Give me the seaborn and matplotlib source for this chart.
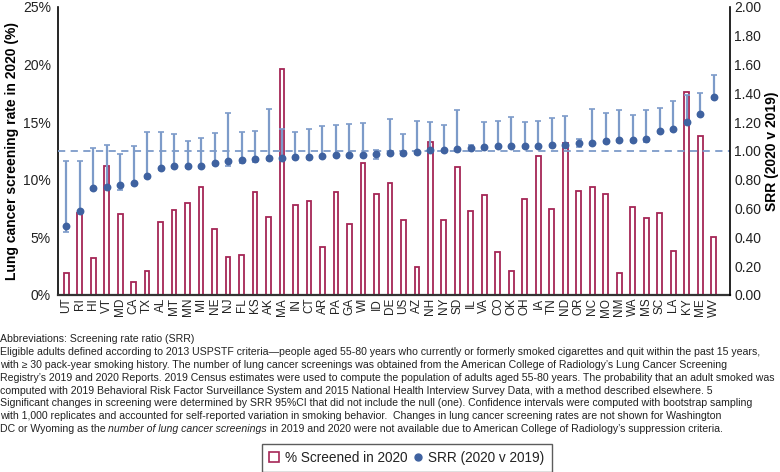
import numpy as np
import pandas as pd
import matplotlib
matplotlib.use("Agg")
import matplotlib.pyplot as plt
import seaborn as sns
from matplotlib.patches import Patch
from matplotlib.lines import Line2D
from matplotlib.ticker import FuncFormatter

states = ["UT","RI","HI","VT","MD","CA","TX","AL","MT","MN","MI","NE","NJ","FL","KS",
          "AK","MA","IN","CT","AR","PA","GA","WI","ID","DE","US","AZ","NH","NY","SD",
          "IL","VA","CO","OK","OH","IA","TN","ND","OR","NC","MO","NM","WA","MS","SC",
          "LA","KY","ME","WV"]

pct_screened = [1.9,7.1,3.2,11.2,7.0,1.1,2.1,6.3,7.35,7.95,9.35,5.7,3.3,3.45,8.95,
                6.75,19.6,7.85,8.2,4.15,8.9,6.2,11.5,8.75,9.75,6.5,2.45,13.3,6.55,11.15,
                7.25,8.7,3.7,2.05,8.3,12.1,7.45,13.2,9.0,9.4,8.75,1.9,7.65,6.65,7.15,
                3.8,17.6,13.8,5.0]

srr = [0.479,0.585,0.743,0.75,0.766,0.78,0.826,0.884,0.893,0.893,0.896,0.92,0.928,0.935,0.944,
       0.949,0.953,0.958,0.958,0.965,0.97,0.97,0.972,0.979,0.984,0.984,0.991,1.005,1.007,1.011,
       1.018,1.028,1.037,1.037,1.037,1.037,1.04,1.04,1.058,1.058,1.072,1.076,1.076,1.083,1.137,
       1.153,1.204,1.26,1.375]

srr_upper = [0.93,0.93,1.02,1.04,0.977,1.035,1.13,1.13,1.116,1.07,1.09,1.125,1.266,1.134,1.139,
             1.294,1.155,1.134,1.155,1.176,1.178,1.1875,1.194,1.009,1.224,1.116,1.206,1.199,1.178,1.285,
             1.04,1.204,1.21,1.236,1.204,1.21,1.229,1.245,1.081,1.29,1.262,1.287,1.248,1.287,1.30,
             1.35,1.39,1.40,1.528]

srr_lower = [0.44,0.57,0.73,0.735,0.73,0.765,0.81,0.865,0.88,0.88,0.88,0.905,0.898,0.92,0.925,
             0.935,0.94,0.945,0.945,0.95,0.955,0.955,0.958,0.944,0.97,0.97,0.978,0.99,0.993,0.997,
             1.007,1.015,1.024,1.024,1.024,1.024,1.028,1.03,1.03,1.042,1.058,1.062,1.062,1.065,1.123,
             1.14,1.19,1.245,1.36]

left_ticks = [0, 5, 10, 15, 20, 25]
right_ticks = [0.0, 0.2, 0.4, 0.6, 0.8, 1.0, 1.2, 1.4, 1.6, 1.8, 2.0]

footnote_lines = [
    "Abbreviations: Screening rate ratio (SRR)",
    "Eligible adults defined according to 2013 USPSTF criteria\u2014people aged 55-80 years who currently or formerly smoked cigarettes and quit within the past 15 years,",
    "with \u2265 30 pack-year smoking history. The number of lung cancer screenings was obtained from the American College of Radiology\u2019s Lung Cancer Screening",
    "Registry\u2019s 2019 and 2020 Reports. 2019 Census estimates were used to compute the population of adults aged 55-80 years. The probability that an adult smoked was",
    "computed with 2019 Behavioral Risk Factor Surveillance System and 2015 National Health Interview Survey Data, with a method described elsewhere. 5",
    "Significant changes in screening were determined by SRR 95%CI that did not include the null (one). Confidence intervals were computed with bootstrap sampling",
    "with 1,000 replicates and accounted for self-reported variation in smoking behavior.  Changes in lung cancer screening rates are not shown for Washington",
]
last_line_parts = ["DC or Wyoming as the ", "number of lung cancer screenings",
                   " in 2019 and 2020 were not available due to American College of Radiology\u2019s suppression criteria."]

sns.set_theme(style="white")
plt.rcParams['font.family'] = ['Liberation Sans', 'DejaVu Sans']

BAR_C = "#a52656"
PT_C = "#3f62a0"
ERR_C = "#7d9bc9"
TXT_C = "#222222"

fig = plt.figure(figsize=(7.8, 4.72), dpi=100)
ax = fig.add_axes([58/780, 1-295/472, (730-58)/780, (295-7)/472])

df = pd.DataFrame({"state": states, "pct": pct_screened})
sns.barplot(data=df, x="state", y="pct", order=states, ax=ax, width=0.36,
            fill=False, color=BAR_C, linewidth=1.3)
for p in ax.patches:
    p.set_facecolor("white")
    p.set_edgecolor(BAR_C)
    p.set_fill(True)

ax.set_xlim(-0.6, len(states) - 1 + 1.2)
ax.set_ylim(0, 25)
ax.set_yticks(left_ticks)
ax.yaxis.set_major_formatter(FuncFormatter(lambda v, _: f"{int(v)}%"))
ax.tick_params(axis="y", labelsize=10, length=0, pad=5, labelcolor=TXT_C)
ax.tick_params(axis="x", labelsize=8.5, length=0, pad=2, labelrotation=90, labelcolor=TXT_C)
ax.set_xlabel("")
ax.set_ylabel("Lung cancer screening rate in 2020 (%)", fontsize=10, fontweight="bold",
              labelpad=3, color="black")
ax.spines["top"].set_visible(False)
ax.spines["left"].set_color("black")
ax.spines["left"].set_linewidth(1.2)
ax.spines["bottom"].set_color("#333333")
ax.spines["bottom"].set_linewidth(1.6)
ax.spines["right"].set_visible(False)

ax2 = ax.twinx()
xpos = np.arange(len(states))
srr_a = np.array(srr)
yerr = np.vstack([srr_a - np.array(srr_lower), np.array(srr_upper) - srr_a])
ax2.errorbar(xpos, srr_a, yerr=yerr, fmt="none", ecolor=ERR_C, elinewidth=1.6,
             capsize=2.5, capthick=1.2, zorder=2)
sns.scatterplot(x=xpos, y=srr, ax=ax2, color=PT_C, s=32, edgecolor=PT_C, linewidth=0, zorder=3)
ax2.axhline(1.0, color=ERR_C, linestyle=(0, (4, 3)), linewidth=1.3, zorder=1)
ax2.set_ylim(0, 2.0)
ax2.set_xlim(ax.get_xlim())
ax2.set_yticks(right_ticks)
ax2.yaxis.set_major_formatter(FuncFormatter(lambda v, _: f"{v:.2f}"))
ax2.tick_params(axis="y", labelsize=10, length=0, pad=3, labelcolor=TXT_C)
ax2.set_ylabel("SRR (2020 v 2019)", fontsize=10, fontweight="bold", labelpad=3, color="black")
for side in ["top", "left", "bottom"]:
    ax2.spines[side].set_visible(False)
ax2.spines["right"].set_color("black")
ax2.spines["right"].set_linewidth(1.2)
ax2.grid(False)
ax.grid(False)

fs = 7.55
y0 = 1 - 339/472
dy = 12.9/472
for i, line in enumerate(footnote_lines):
    fig.text(0.0, y0 - i*dy, line, fontsize=fs, ha="left", va="center", color=TXT_C)
t1 = fig.text(0.0, y0 - 7*dy, last_line_parts[0], fontsize=fs, ha="left", va="center", color=TXT_C)
a2 = ax.annotate(last_line_parts[1], xy=(1, 0), xycoords=t1, va="bottom", ha="left",
                 fontsize=fs, fontstyle="italic", color=TXT_C, annotation_clip=False)
a3 = ax.annotate(last_line_parts[2], xy=(1, 0), xycoords=a2, va="bottom", ha="left",
                 fontsize=fs, color=TXT_C, annotation_clip=False)

handles = [Patch(facecolor="white", edgecolor=BAR_C, linewidth=1.2, label="% Screened in 2020"),
           Line2D([], [], marker="o", linestyle="none", color=PT_C, markersize=5, label="SRR (2020 v 2019)")]
leg = fig.legend(handles=handles, loc="center", bbox_to_anchor=(407/780, 1-458/472), ncol=2,
                 frameon=True, fontsize=9.8, handlelength=0.75, handleheight=0.75, handletextpad=0.4,
                 columnspacing=0.4, borderpad=0.5, fancybox=False)
leg.get_frame().set_edgecolor("#333333")
leg.get_frame().set_linewidth(1.0)
for t in leg.get_texts():
    t.set_color(TXT_C)

fig.savefig("out.png", dpi=100)
